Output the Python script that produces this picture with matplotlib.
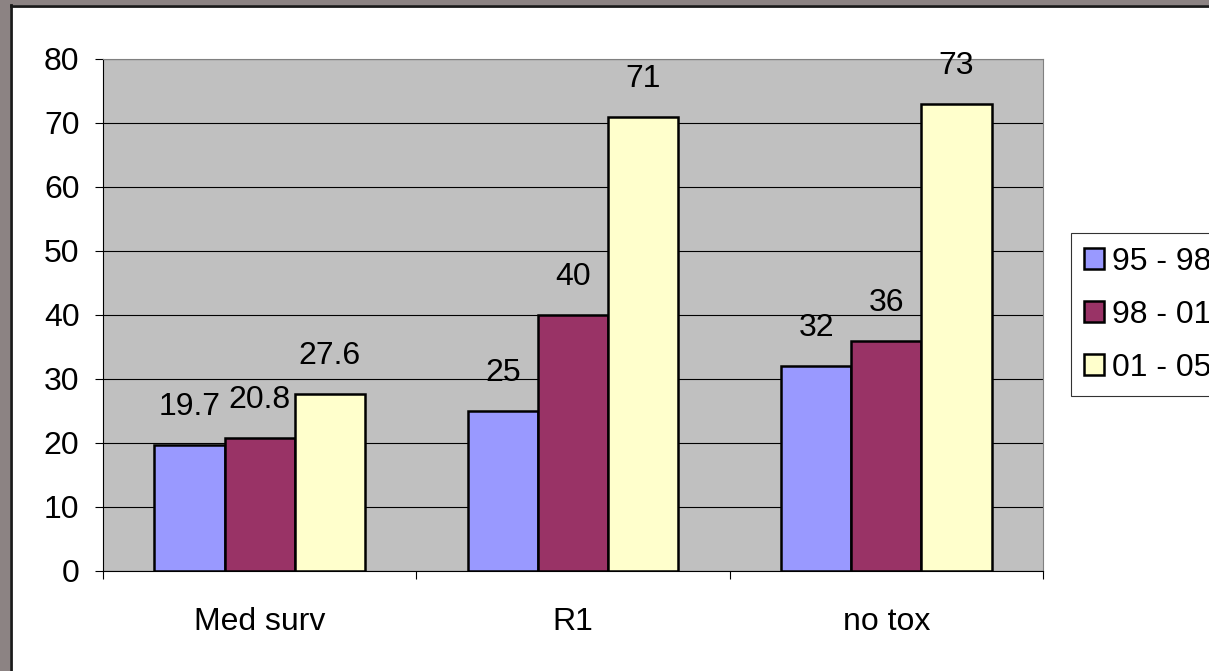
import matplotlib.pyplot as plt
import numpy as np
from matplotlib.patches import Rectangle
from matplotlib.lines import Line2D

plt.rcParams['font.family'] = ['Liberation Sans', 'DejaVu Sans']

# Chart data
categories = ['Med surv', 'R1', 'no tox']
periods = ['95 - 98', '98 - 01', '01 - 05']
values = [
    [19.7, 25, 32],   # 95 - 98
    [20.8, 40, 36],   # 98 - 01
    [27.6, 71, 73],   # 01 - 05
]
labels = [
    ['19.7', '25', '32'],
    ['20.8', '40', '36'],
    ['27.6', '71', '73'],
]
colors = ['#9999FF', '#993366', '#FFFFCC']
fs = 23

fig = plt.figure(figsize=(12.09, 6.71), dpi=100)
fig.patch.set_facecolor('white')

# slide frame: grey band with dark edge on the left and top
fig.add_artist(Rectangle((0, 0), 10 / 1209, 1, transform=fig.transFigure,
                         facecolor='#8c8383', edgecolor='none'))
fig.add_artist(Rectangle((0, 1 - 5 / 671), 1, 5 / 671, transform=fig.transFigure,
                         facecolor='#8c8383', edgecolor='none'))
fig.add_artist(Line2D([10.5 / 1209, 10.5 / 1209], [0, 1 - 5 / 671],
                      transform=fig.transFigure, color='#1a1a1a', lw=2))
fig.add_artist(Line2D([10.5 / 1209, 1], [1 - 5.5 / 671, 1 - 5.5 / 671],
                      transform=fig.transFigure, color='#1a1a1a', lw=2))

ax = fig.add_axes([103 / 1209, 100 / 671, 940 / 1209, 512 / 671])
ax.set_facecolor('#C0C0C0')

x = np.arange(len(categories))
w = 0.224
for i, (vals, c) in enumerate(zip(values, colors)):
    pos = x + (i - 1) * w
    ax.bar(pos, vals, width=w, color=c, edgecolor='black', linewidth=1.8,
           label=periods[i], zorder=3)
    for px, v, t in zip(pos, vals, labels[i]):
        ax.annotate(t, (px, v), xytext=(0, 38), textcoords='offset pixels',
                    ha='center', va='center', fontsize=fs)

ax.set_xlim(-0.5, 2.5)
ax.set_ylim(0, 80)
ax.set_yticks(np.arange(0, 81, 10))
ax.yaxis.grid(True, color='black', linewidth=0.8, zorder=1)
ax.set_axisbelow(True)

ax.set_xticks(x)
ax.set_xticklabels(categories)
ax.set_xticks([-0.5, 0.5, 1.5, 2.5], minor=True)
ax.tick_params(axis='x', which='major', length=0, pad=26, labelsize=fs)
ax.tick_params(axis='x', which='minor', length=6, width=0.8, direction='out')
ax.tick_params(axis='y', length=6, width=0.8, pad=11, labelsize=fs)

for s in ['top', 'right']:
    ax.spines[s].set_color('#808080')
ax.spines['left'].set_color('black')
ax.spines['bottom'].set_color('black')

leg = fig.legend(loc='center left', bbox_to_anchor=(1071 / 1209, 1 - 314.5 / 671),
                 fontsize=fs, frameon=True, fancybox=False, edgecolor='black',
                 handlelength=0.62, handleheight=0.62, handletextpad=0.25,
                 labelspacing=0.72, borderpad=0.42, borderaxespad=0)
leg.get_frame().set_linewidth(0.8)

fig.savefig('out.png', dpi=100)
